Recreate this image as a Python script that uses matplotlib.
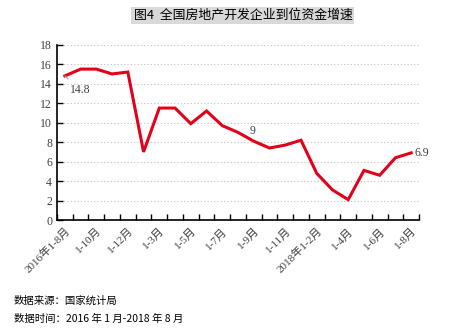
import numpy as np
import matplotlib.pyplot as plt

plt.rcParams['font.family'] = ['Noto Sans CJK SC', 'DejaVu Sans']

# 全国房地产开发企业到位资金累计增速（%）
periods = ['2016年1-8月', '1-9月', '1-10月', '1-11月', '1-12月',
           '2017年1-2月', '1-3月', '1-4月', '1-5月', '1-6月', '1-7月', '1-8月',
           '1-9月', '1-10月', '1-11月', '1-12月',
           '2018年1-2月', '1-3月', '1-4月', '1-5月', '1-6月', '1-7月', '1-8月']
growth = [14.8, 15.5, 15.5, 15.0, 15.2,
          7.0, 11.5, 11.5, 9.9, 11.2, 9.7, 9.0,
          8.1, 7.4, 7.7, 8.2,
          4.8, 3.1, 2.1, 5.1, 4.6, 6.4, 6.9]
shown_labels = ['2016年1-8月', '1-10月', '1-12月', '1-3月', '1-5月', '1-7月',
                '1-9月', '1-11月', '2018年1-2月', '1-4月', '1-6月', '1-8月']
yticks = [0, 2, 4, 6, 8, 10, 12, 14, 16, 18]

fig = plt.figure(figsize=(4.69, 3.29), dpi=100)
ax = fig.add_axes([0.1215, 0.331, 0.772, 0.533])

x = np.arange(len(growth))
ax.plot(x, growth, color='#e2001a', lw=2.2, solid_joinstyle='miter', zorder=3)

ax.set_xlim(-0.5, len(growth) - 0.5)
ax.set_ylim(0, 18)
ax.set_yticks(yticks)
ax.set_yticklabels([str(v) for v in yticks], family=['Liberation Serif'],
                   fontsize=8.5, color='#404040')
ax.yaxis.grid(True, ls=(0, (1, 2)), color='#bfbfbf', lw=0.8)
ax.set_axisbelow(True)

# 分类轴：刻度在分类边界，标签隔一个显示
ax.set_xticks(np.arange(len(growth) + 1) - 0.5)
ax.set_xticklabels([])
ax.set_xticks(x[::2], minor=True)
ax.set_xticklabels(shown_labels, minor=True, rotation=45, ha='right', va='top',
                   rotation_mode='anchor', fontsize=8, color='#404040',
                   family=['Liberation Serif', 'Noto Sans CJK SC'])
ax.tick_params(axis='x', which='minor', length=0, pad=4)
ax.tick_params(axis='both', which='major', direction='in', length=4, width=1, color='black')
for s in ['top', 'right']:
    ax.spines[s].set_visible(False)
for s in ['left', 'bottom']:
    ax.spines[s].set_linewidth(1.2)

lab_font = dict(fontsize=8.5, color='#404040', family=['Liberation Serif'])
ax.annotate(f'{growth[0]}', xy=(x[0], growth[0]), xytext=(0.3, 13.4),
            ha='left', va='center',
            arrowprops=dict(arrowstyle='-', color='#a6a6a6', lw=0.8,
                            shrinkA=2, shrinkB=0), **lab_font)
ax.text(x[11] + 0.9, growth[11] + 0.1, f'{growth[11]:g}', ha='center', va='center', **lab_font)
ax.text(x[-1] + 0.2, growth[-1], f'{growth[-1]}', ha='left', va='center', **lab_font)

fig.text(0.518, 0.952, '图4  全国房地产开发企业到位资金增速', ha='center', va='center',
         fontsize=9.3, color='black',
         bbox=dict(facecolor='#d9d9d9', edgecolor='none', pad=1.5))
fig.text(0.03, 0.085, '数据来源：国家统计局', fontsize=7.5, ha='left', va='center')
fig.text(0.03, 0.03, '数据时间：2016 年 1 月-2018 年 8 月', fontsize=7.5, ha='left', va='center')

fig.savefig('out.png', dpi=100)
